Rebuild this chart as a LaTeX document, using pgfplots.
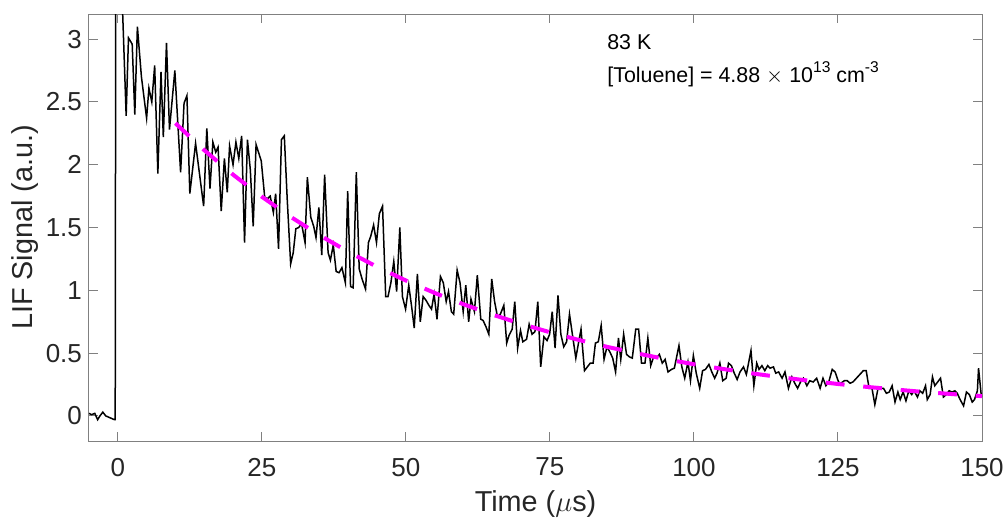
\documentclass[border=0pt]{standalone}
\usepackage{pgfplots}
\pgfplotsset{compat=1.18}
\usepackage{fontspec}
\setmainfont{Liberation Sans}

\definecolor{axgray}{gray}{0.5}
\definecolor{txtgray}{gray}{0.15}
\definecolor{fitmag}{RGB}{255,0,255}

\begin{document}
\begin{tikzpicture}
\useasboundingbox (-44.5pt,-40pt) rectangle (458.5pt,220.5pt);
\begin{axis}[
  anchor=south west,
  at={(0pt,0pt)},
  width=446.5pt,
  height=213.5pt,
  scale only axis,
  xmin=-5, xmax=150,
  ymin=-0.2, ymax=3.2,
  xtick={0,25,...,150},
  ytick={0,0.5,...,3},
  tick align=inside,
  major tick length=4.5pt,
  axis line style={axgray, line width=0.5pt},
  every tick/.style={axgray, line width=0.5pt},
  /pgf/number format/assume math mode=true,
  yticklabel style={/pgf/number format/fixed},
  xticklabel style={yshift=-5pt},
  tick label style={font=\fontsize{13}{15}\selectfont, text=txtgray},
  label style={font=\fontsize{14.4}{17}\selectfont, text=txtgray},
  xlabel style={yshift=0pt},
  ylabel style={yshift=-3pt},
  xlabel={Time ($\mu$s)},
  ylabel={LIF Signal (a.u.)},
]
% measured LIF trace
\addplot[black, line width=0.75pt, mark=none] coordinates {
(-5.0,0.02) (-4.55,0.01) (-4.0,0.02) (-3.5,-0.03) (-3.1,0.0) (-2.6,0.03) (-2.1,0.0) (-1.6,-0.01) (-1.1,-0.02) (-0.6,-0.03)
(-0.45,-0.03) (-0.35,3.9) (0.1,3.7) (0.7,3.4) (1.45,2.39) (1.85,3.01) (2.5,2.96) (2.95,2.40) (3.4,3.10) (4.1,2.70)
(5.0,2.37) (5.4,2.61) (5.9,2.50) (6.4,2.79) (6.95,1.93) (7.5,2.74) (7.9,2.22) (8.45,2.97) (8.97,2.28) (9.9,2.75)
(10.9,1.94) (11.5,2.49) (12.0,2.55) (12.5,1.77) (13.5,2.17) (14.9,1.67) (15.45,2.29) (16.0,1.81) (16.5,2.18) (17.0,2.10)
(17.4,2.14) (17.95,1.63) (18.5,2.05) (19.0,1.78) (19.4,2.15) (20.0,2.00) (20.5,2.18) (21.0,2.05) (21.5,2.23) (22.0,1.38)
(22.5,2.20) (23.0,1.96) (23.5,1.51) (24.0,2.16) (24.9,2.03) (25.5,1.74) (26.0,1.73) (26.45,1.75) (27.0,1.62) (27.4,1.77)
(27.9,1.33) (28.4,2.20) (28.9,2.23) (29.4,1.73) (30.0,1.21) (30.45,1.30) (30.9,1.49) (31.4,1.50) (31.9,1.53) (32.5,1.38)
(32.9,1.90) (33.5,1.58) (34.0,1.51) (34.4,1.42) (34.9,1.66) (35.4,1.28) (35.9,1.92) (36.5,1.30) (36.9,1.24) (37.4,1.36)
(37.9,1.15) (38.4,1.14) (38.9,1.18) (39.5,1.06) (39.9,1.79) (40.4,1.03) (40.85,1.02) (41.4,1.94) (41.9,1.17) (42.4,1.09)
(43.0,1.01) (43.5,1.38) (43.9,1.43) (44.4,1.52) (44.9,1.38) (45.4,1.61) (45.95,1.67) (46.5,0.95) (46.9,0.95) (47.4,1.06)
(47.9,1.23) (48.4,0.99) (48.95,1.50) (49.4,0.95) (49.95,0.85) (50.5,1.04) (51.0,0.87) (51.45,0.70) (52.0,1.13) (52.5,0.75)
(53.0,0.95) (53.5,0.92) (54.0,0.88) (54.45,0.85) (54.9,0.97) (55.4,0.77) (56.0,1.11) (56.5,1.06) (57.0,0.91) (57.4,0.99)
(57.9,0.83) (58.3,0.81) (58.9,1.16) (59.4,1.06) (59.95,0.83) (60.4,1.04) (60.9,0.75) (61.3,0.93) (61.9,0.83) (62.4,1.12)
(63.0,0.77) (63.4,0.76) (63.9,0.71) (64.4,0.65) (64.9,1.09) (65.4,0.91) (65.9,0.79) (66.4,0.81) (67.0,0.88) (67.5,0.58)
(67.9,0.64) (68.45,0.69) (68.9,0.91) (69.4,0.54) (69.9,0.68) (70.3,0.59) (70.95,0.61) (71.4,0.73) (71.9,0.65) (72.4,0.67)
(72.9,0.91) (73.4,0.39) (73.96,0.63) (74.5,0.60) (74.95,0.65) (75.4,0.83) (75.9,0.54) (76.4,0.96) (76.9,0.65) (77.4,0.55)
(77.9,0.59) (78.4,0.81) (78.9,0.65) (79.5,0.46) (80.0,0.59) (80.4,0.69) (81.0,0.36) (81.5,0.39) (82.0,0.42) (82.5,0.42)
(82.9,0.58) (83.4,0.59) (83.9,0.72) (84.4,0.45) (84.9,0.55) (85.4,0.51) (85.9,0.46) (86.4,0.35) (86.9,0.62) (87.3,0.45)
(87.8,0.65) (88.3,0.49) (88.8,0.47) (89.3,0.46) (89.9,0.69) (90.4,0.69) (90.9,0.42) (91.5,0.42) (92.0,0.62) (92.5,0.40)
(93.0,0.47) (93.5,0.46) (94.0,0.49) (94.5,0.42) (95.0,0.45) (95.5,0.35) (96.1,0.37) (96.6,0.38) (97.4,0.56) (97.9,0.39)
(98.4,0.30) (98.96,0.43) (99.4,0.28) (99.9,0.48) (100.4,0.34) (101.0,0.22) (101.5,0.36) (102.0,0.37) (102.6,0.41) (103.1,0.35)
(103.6,0.30) (104.0,0.34) (104.5,0.42) (105.0,0.28) (105.6,0.30) (106.0,0.42) (106.5,0.40) (107.0,0.34) (107.5,0.29) (108.0,0.35)
(108.6,0.39) (109.1,0.33) (109.9,0.52) (110.4,0.24) (110.9,0.42) (111.3,0.37) (111.8,0.40) (112.3,0.36) (112.8,0.40) (113.2,0.38)
(113.8,0.39) (114.2,0.34) (114.7,0.35) (115.3,0.30) (115.8,0.35) (116.4,0.22) (117.0,0.31) (117.5,0.26) (118.0,0.22) (118.5,0.27)
(119.0,0.30) (119.6,0.24) (120.1,0.28) (120.7,0.27) (121.3,0.30) (121.9,0.22) (122.4,0.30) (122.9,0.24) (123.4,0.27) (124.0,0.37)
(124.5,0.35) (125.1,0.27) (125.5,0.26) (126.1,0.28) (126.6,0.28) (127.1,0.26) (127.6,0.27) (128.2,0.30) (128.8,0.33) (129.4,0.36)
(129.9,0.36) (130.4,0.22) (130.9,0.22) (131.4,0.09) (132.0,0.23) (132.4,0.22) (132.9,0.22) (133.4,0.18) (133.9,0.19) (134.4,0.24)
(134.9,0.11) (135.4,0.19) (135.8,0.13) (136.3,0.19) (136.8,0.12) (137.3,0.20) (137.8,0.17) (138.2,0.20) (138.8,0.15) (139.2,0.20)
(139.7,0.18) (140.2,0.24) (140.5,0.13) (141.0,0.17) (141.4,0.31) (141.8,0.24) (142.3,0.27) (142.8,0.30) (143.3,0.15) (143.8,0.17)
(144.3,0.20) (144.8,0.19) (145.3,0.20) (145.7,0.18) (146.2,0.13) (146.8,0.08) (147.3,0.19) (147.8,0.17) (148.3,0.11) (148.7,0.13)
(149.2,0.20) (149.4,0.38) (149.9,0.15)
};
% single exponential fit
\addplot[fitmag, line width=2pt, dash pattern=on 9.4pt off 9.4pt, mark=none] coordinates {
(10,2.330) (15,2.116) (20,1.921) (25,1.745) (30,1.585) (35,1.439) (40,1.307) (45,1.187) (50,1.078) (55,0.979)
(60,0.889) (65,0.807) (70,0.733) (75,0.666) (80,0.605) (85,0.549) (90,0.499) (95,0.453) (100,0.411) (105,0.374)
(110,0.339) (115,0.308) (120,0.280) (125,0.254) (130,0.231) (135,0.210) (140,0.190) (145,0.173) (150,0.157)
};
\node[anchor=west, inner sep=0pt, font=\fontsize{10.7}{13}\selectfont, text=black] at (axis cs:84.9,2.98) {83 K};
\node[anchor=west, inner sep=0pt, font=\fontsize{10.7}{13}\selectfont, text=black] at (axis cs:84.9,2.72)
  {[Toluene] = 4.88\hspace{3pt}$\times$\hspace{3pt}10\raisebox{0.5em}{\fontsize{7.8}{9}\selectfont 13}\hspace{3pt}cm\raisebox{0.5em}{\fontsize{7.8}{9}\selectfont -3}};
\end{axis}
\end{tikzpicture}
\end{document}
